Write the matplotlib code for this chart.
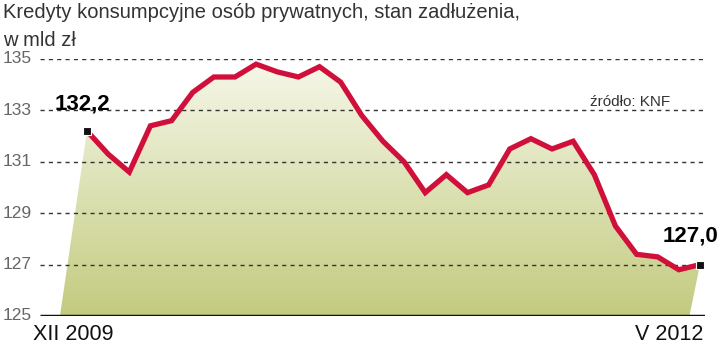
import numpy as np
import matplotlib
matplotlib.use('Agg')
import matplotlib.pyplot as plt
from matplotlib.patches import Polygon

plt.rcParams['font.family'] = ['Liberation Sans', 'DejaVu Sans']

# Kredyty konsumpcyjne, XII 2009 - V 2012, mld zl
values = [132.2, 131.3, 130.6, 132.4, 132.6, 133.7, 134.3, 134.3, 134.8, 134.5,
          134.3, 134.7, 134.1, 132.8, 131.8, 131.0, 129.8, 130.5, 129.8, 130.1,
          131.5, 131.9, 131.5, 131.8, 130.5, 128.5, 127.4, 127.3, 126.8, 127.0]
yticks = [125, 127, 129, 131, 133, 135]
first_label = 'XII 2009'
last_label = 'V 2012'

x = np.arange(len(values))
n = len(values)

fig = plt.figure(figsize=(7.2, 3.49), dpi=100)
ax = fig.add_axes([40/720, 33/349, 665/720, 257/349])
ax.set_xlim(-2.224, 29.237)
ax.set_ylim(125, 135)
ax.axis('off')

# gradient fill under the line
poly_x = [-1.28] + list(x) + [n - 1.5]
poly_y = [125] + values + [125]
poly = Polygon(np.column_stack([poly_x, poly_y]), closed=True, facecolor='none', edgecolor='none')
ax.add_patch(poly)
grad = np.linspace(0, 1, 256).reshape(-1, 1)
cmap = matplotlib.colors.LinearSegmentedColormap.from_list('g', ['#c3cb7f', '#f6f8ea'])
img = ax.imshow(grad, cmap=cmap, aspect='auto', extent=[-2.224, 29.237, 125, 135],
                origin='lower', zorder=1)
img.set_clip_path(poly)

# grid lines
for t in yticks[1:]:
    ax.plot([-2.224, 29.237], [t, t], color='#333333', lw=1.0, ls=(0, (3, 3)), zorder=2)
ax.plot([-2.224, 29.237], [125, 125], color='#111111', lw=2.5, zorder=4, solid_capstyle='butt')
for t in yticks:
    fig.text(3/720, ax.transData.transform((0, t))[1] / 349, str(t), ha='left', va='center',
             fontsize=12.5, color='#666666')

ax.plot(x, values, color='#d0103a', lw=3.8, zorder=5, solid_joinstyle='miter')
ax.plot([x[0], x[-1]], [values[0], values[-1]], 's', color='#111111', ms=6,
        mec='white', mew=0.8, zorder=6)

ax.text(x[0] - 1.55, values[0] + 0.65, '132,2', fontsize=16, fontweight='bold', ha='left', va='bottom')
ax.text(x[-1] + 0.85, values[-1] + 0.7, '127,0', fontsize=16, fontweight='bold', ha='right', va='bottom')
ax.text(27.6, 133.05, 'źródło: KNF', fontsize=11, color='#333333', ha='right', va='bottom')

fig.text(3/720, 1 - 13/349, 'Kredyty konsumpcyjne osób prywatnych, stan zadłużenia,',
         fontsize=14.5, color='#333333', ha='left', va='center')
fig.text(3/720, 1 - 41/349, 'w mld zł', fontsize=14.5, color='#333333', ha='left', va='center')
fig.text(33/720, 1 - 335/349, first_label, fontsize=15.5, color='#111111', ha='left', va='center')
fig.text(703/720, 1 - 335/349, last_label, fontsize=15.5, color='#111111', ha='right', va='center')

fig.savefig('out.png', dpi=100)
